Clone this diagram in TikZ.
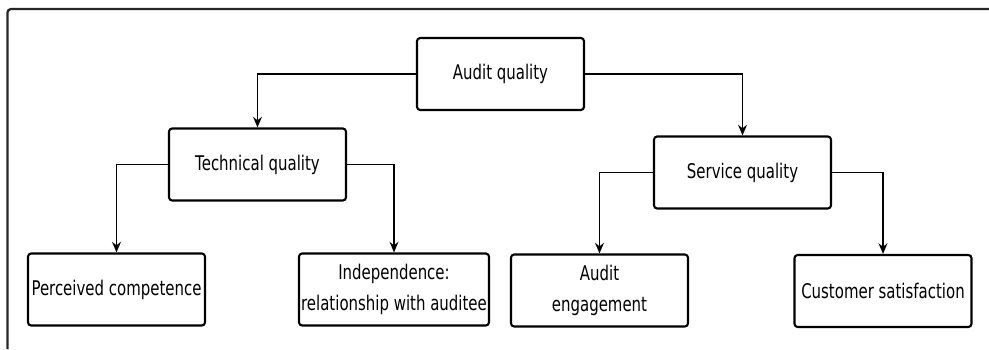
\documentclass[tikz,border=0pt]{standalone}
\usepackage{fontspec}
\setmainfont{DejaVu Sans}[FakeStretch=0.74]
\usepackage{tikz}
\usetikzlibrary{arrows,arrows.meta}

\begin{document}
\begin{tikzpicture}[
font=\fontsize{11.5}{18}\selectfont,
box/.style={draw,line width=1.2pt,rounded corners=1.8pt,inner sep=0pt,align=center,minimum width=3.54cm,minimum height=1.44cm},
arrow/.style={-{Stealth[length=6pt,width=5pt]},line width=1.1pt},
frame/.style={line width=1.3pt,rounded corners=2pt,draw=black!85}]

\useasboundingbox (0,0) rectangle (19.78,-6.98);

\draw[frame] (0.15,-6.98) |- (19.78,-0.18);

\node[box,minimum width=3.34cm] (aq) at (10.01,-1.48) {Audit quality};

\node[box] (tq) at (5.15,-3.29) {Technical quality};

\node[box] (sq) at (14.85,-3.45) {Service quality};

\node[box] (pc) at (2.33,-5.79) {Perceived competence};

\node[box,minimum width=3.8cm] (ind) at (7.88,-5.79) {Independence:\\relationship with auditee};

\node[box] (ae) at (11.99,-5.81) {Audit\\engagement};

\node[box] (cs) at (17.66,-5.82) {Customer satisfaction};


\draw[arrow] (aq.west) -| (tq.north);

\draw[arrow] (aq.east) -| (sq.north);

\draw[arrow] (tq.west) -| (pc.north);

\draw[arrow] (tq.east) -| (ind.north);

\draw[arrow] (sq.west) -| (ae.north);

\draw[arrow] (sq.east) -| (cs.north);


\end{tikzpicture}
\end{document}
